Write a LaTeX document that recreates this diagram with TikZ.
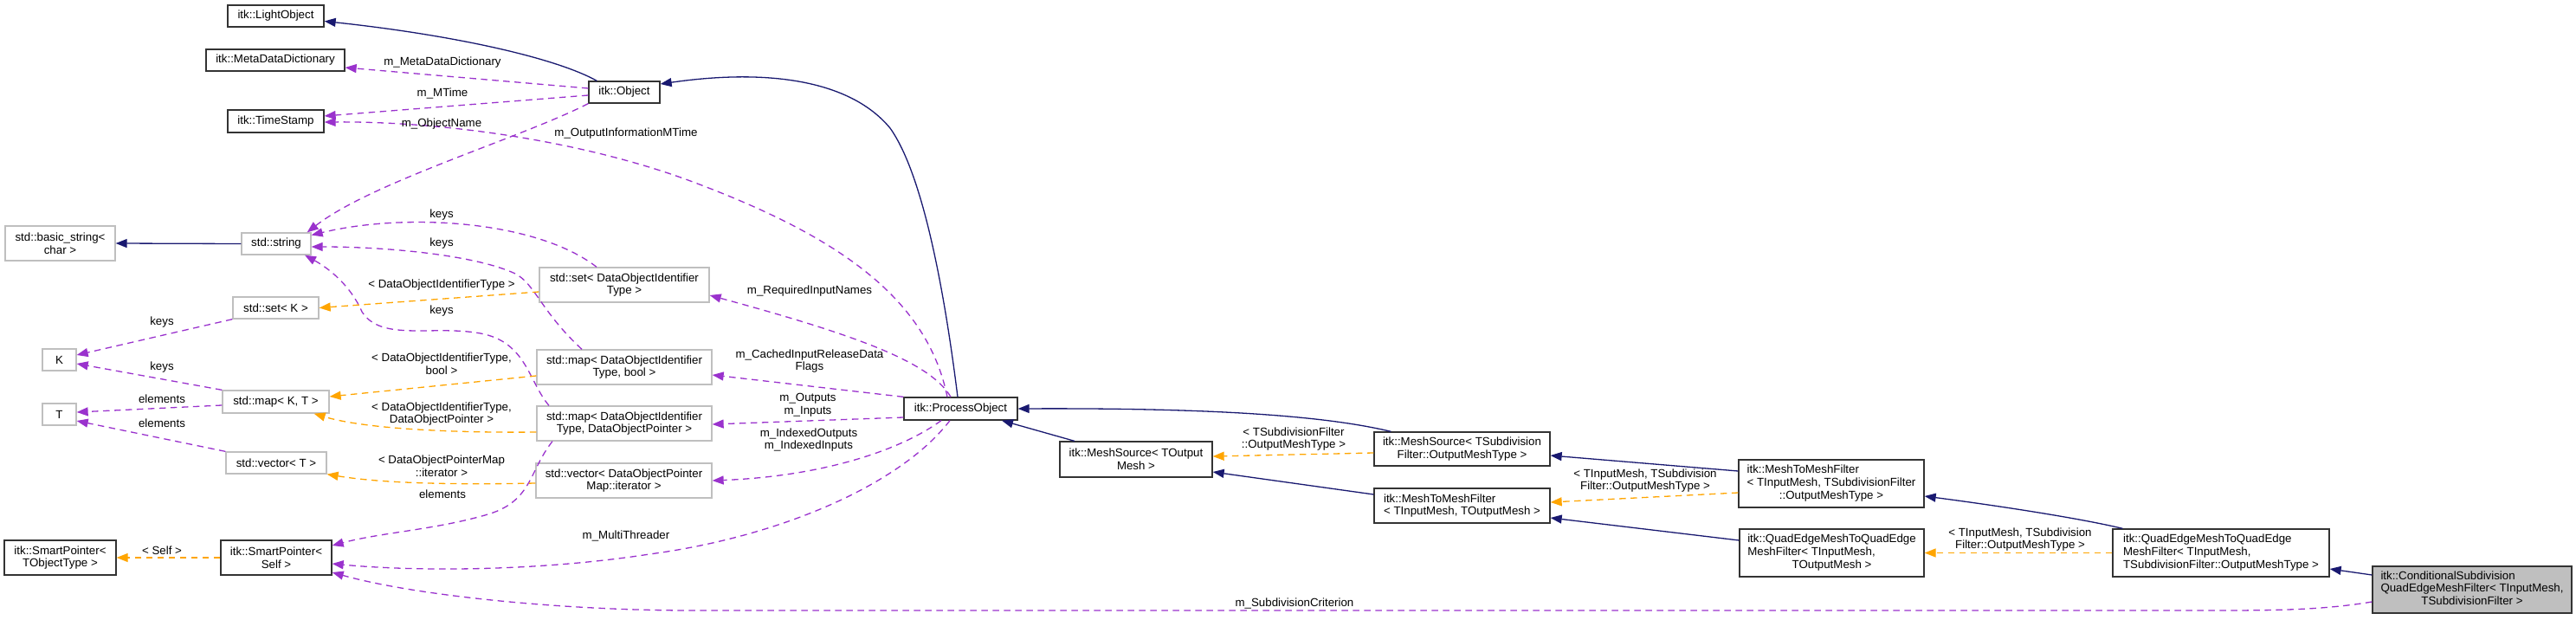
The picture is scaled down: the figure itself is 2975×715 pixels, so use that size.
\documentclass[tikz,border=0pt]{standalone}
\usepackage{fontspec}
\setmainfont{Liberation Sans}
\usepackage{xcolor}
\usetikzlibrary{arrows.meta, calc}
\definecolor{dxnavy}{HTML}{191970}
\definecolor{dxpurple}{HTML}{9A32CD}
\definecolor{dxorange}{HTML}{FFA500}
\newcommand{\dxfont}{\fontsize{13.3pt}{14.7pt}\selectfont}
\newcommand{\mixlines}[3]{\begin{tabular}{@{}l@{}}#1\\#2\\\multicolumn{1}{@{}c@{}}{#3}\end{tabular}}

\begin{document}
\begin{tikzpicture}[x=1pt, y=-1pt,
    cls/.style={rectangle, draw=black!80, line width=1.3pt, fill=white,
        inner sep=0pt, align=center, font=\dxfont},
    extcls/.style={cls, draw=gray!50},
    curcls/.style={cls, fill=gray!50},
    lbl/.style={inner sep=0pt, align=center, font=\dxfont},
    inh/.style={draw=dxnavy, line width=1.3pt, -{Triangle[length=13pt, width=10pt]}},
    usage/.style={draw=dxpurple, line width=1.3pt, dash pattern=on 7.5pt off 5.5pt,
        -{Triangle[length=13pt, width=10pt]}},
    tmpl/.style={usage, draw=dxorange},
]
\useasboundingbox (0,0) rectangle (2975,715);

% classes
\node[cls, minimum width=111pt, minimum height=25pt] (lightobj) at (318.5,18.5) {itk::LightObject};
\node[cls, minimum width=160pt, minimum height=25pt] (metadict) at (318,69.5) {itk::MetaDataDictionary};
\node[cls, minimum width=111pt, minimum height=26pt] (timestamp) at (318.5,140) {itk::TimeStamp};
\node[cls, minimum width=82pt, minimum height=25pt] (object) at (721,106.5) {itk::Object};
\node[extcls, minimum width=127pt, minimum height=40pt] (basicstr) at (69.5,281) {std::basic\_string<\\char >};
\node[extcls, minimum width=80pt, minimum height=25pt] (stdstring) at (319,281.5) {std::string};
\node[extcls, minimum width=99pt, minimum height=25pt] (setK) at (318.5,355.5) {std::set< K >};
\node[extcls, minimum width=39pt, minimum height=25pt] (nodeK) at (68.5,415.5) {K};
\node[extcls, minimum width=39pt, minimum height=25pt] (nodeT) at (68.5,478.5) {T};
\node[extcls, minimum width=123pt, minimum height=26pt] (mapKT) at (318.5,464) {std::map< K, T >};
\node[extcls, minimum width=116pt, minimum height=25pt] (vectorT) at (319,534.5) {std::vector< T >};
\node[extcls, minimum width=196pt, minimum height=40pt] (setDOI) at (721,329) {std::set< DataObjectIdentifier\\Type >};
\node[extcls, minimum width=202pt, minimum height=40pt] (mapDOIbool) at (721,424) {std::map< DataObjectIdentifier\\Type, bool >};
\node[extcls, minimum width=202pt, minimum height=40pt] (mapDOIptr) at (721,489) {std::map< DataObjectIdentifier\\Type, DataObjectPointer >};
\node[extcls, minimum width=203pt, minimum height=40pt] (vectorDOP) at (720.5,555) {std::vector< DataObjectPointer\\Map::iterator >};
\node[cls, minimum width=129pt, minimum height=40pt] (spTObj) at (69.5,644) {itk::SmartPointer<\\TObjectType >};
\node[cls, minimum width=128pt, minimum height=40pt] (spSelf) at (319,644) {itk::SmartPointer<\\Self >};
\node[cls, minimum width=131pt, minimum height=26pt] (procobj) at (1109.5,472) {itk::ProcessObject};
\node[cls, minimum width=176pt, minimum height=41pt] (meshsrcOut) at (1312,530.5) {itk::MeshSource< TOutput\\Mesh >};
\node[cls, minimum width=203pt, minimum height=39pt] (meshsrcSub) at (1688.5,518.5) {itk::MeshSource< TSubdivision\\Filter::OutputMeshType >};
\node[cls, align=left, minimum width=203pt, minimum height=40pt] (m2mOut) at (1688.5,584) {itk::MeshToMeshFilter\\< TInputMesh, TOutputMesh >};
\node[cls, minimum width=214pt, minimum height=55pt] (m2mSub) at (2115,558.5)
    {\mixlines{itk::MeshToMeshFilter}{< TInputMesh, TSubdivisionFilter}{::OutputMeshType >}};
\node[cls, minimum width=213pt, minimum height=55pt] (qeOut) at (2115.5,638.5)
    {\mixlines{itk::QuadEdgeMeshToQuadEdge}{MeshFilter< TInputMesh,}{TOutputMesh >}};
\node[cls, minimum width=250pt, minimum height=55pt] (qeSub) at (2565,638.5)
    {\mixlines{itk::QuadEdgeMeshToQuadEdge}{MeshFilter< TInputMesh,}{ TSubdivisionFilter::OutputMeshType >}};
\node[curcls, minimum width=230pt, minimum height=54pt] (condsub) at (2855,681)
    {\mixlines{itk::ConditionalSubdivision}{QuadEdgeMeshFilter< TInputMesh,}{TSubdivisionFilter >}};

% inheritance
\draw[inh] ($(object.north west)+(10,0)$) .. controls (640,66) and (520,40) .. ($(lightobj.east)+(0,6)$);
\draw[inh] ($(procobj.north)+(-3.5,0)$) .. controls (1090,330) and (1065,200) .. (1028,148)
    .. controls (980,90) and (880,80) .. ($(object.east)+(0,-9.5)$);
\draw[inh] ($(meshsrcOut.north)+(-71,0)$) -- ($(procobj.south)+(47.5,0)$);
\draw[inh] ($(meshsrcSub.north west)+(20,0)$) .. controls (1530,480) and (1400,471) .. (procobj.east);
\draw[inh] ($(m2mOut.west)+(0,-13)$) -- ($(meshsrcOut.east)+(0,14.5)$);
\draw[inh] ($(m2mSub.west)+(0,-14.5)$) -- ($(meshsrcSub.east)+(0,7.5)$);
\draw[inh] ($(qeOut.west)+(0,-14.5)$) -- ($(m2mOut.east)+(0,14)$);
\draw[inh] ($(qeSub.north west)+(12,0)$) .. controls (2400,598) and (2300,583) .. ($(m2mSub.east)+(0,14.5)$);
\draw[inh] ($(condsub.west)+(0,-17)$) -- ($(qeSub.east)+(0,18.5)$);
\draw[inh] (stdstring.west) -- (basicstr.east);

% members
\draw[usage] ($(object.west)+(0,-4.5)$) -- ($(metadict.east)+(0,8.5)$);
\draw[usage] ($(object.west)+(0,3.5)$) -- ($(timestamp.east)+(0,-6)$);
\draw[usage] ($(procobj.north)+(-15.5,0)$) .. controls (1070,340) and (960,270) .. (800,210)
    .. controls (680,165) and (520,140) .. ($(timestamp.east)+(0,1)$);
\draw[usage] (object.south west) .. controls (600,160) and (430,210) .. ($(stdstring.north east)+(-5,0)$);
\draw[usage] ($(setDOI.north)+(-32,0)$) .. controls (620,255) and (470,245) .. ($(stdstring.east)+(0,-10)$);
\draw[usage] ($(mapDOIbool.north)+(-49,0)$) .. controls (625,360) and (618,328) .. (595,316)
    .. controls (550,295) and (450,285) .. ($(stdstring.east)+(0,3.5)$);
\draw[usage] ($(mapDOIptr.north)+(-87,0)$) .. controls (610,440) and (608,395) .. (555,385)
    .. controls (500,375) and (440,395) .. (418,360)
    .. controls (405,330) and (380,310) .. ($(stdstring.south)+(33,0)$);
\draw[usage] ($(mapDOIptr.south)+(-83,0)$) .. controls (610,545) and (615,580) .. (560,595)
    .. controls (500,612) and (440,615) .. ($(spSelf.east)+(0,-14)$);
\draw[usage] ($(procobj.south)+(-12.5,0)$) .. controls (1040,560) and (900,620) .. (750,640)
    .. controls (620,660) and (480,660) .. ($(spSelf.east)+(0,7)$);
\draw[usage] ($(condsub.west)+(0,14)$) .. controls (2680,705) and (2620,705) .. (2550,705) -- (800,705)
    .. controls (650,705) and (480,688) .. ($(spSelf.east)+(0,17)$);
\draw[usage] ($(procobj.north)+(-11.5,0)$) .. controls (1075,420) and (1000,390) .. ($(setDOI.east)+(0,12)$);
\draw[usage] (procobj.north west) -- ($(mapDOIbool.east)+(0,9)$);
\draw[usage] ($(procobj.west)+(0,10)$) -- ($(mapDOIptr.east)+(0,1)$);
\draw[usage] ($(procobj.south)+(-22.5,0)$) .. controls (1040,520) and (950,550) .. (vectorDOP.east);
\draw[usage] (setK.south west) -- ($(nodeK.east)+(0,-5.5)$);
\draw[usage] (mapKT.north west) -- ($(nodeK.east)+(0,4.5)$);
\draw[usage] ($(mapKT.west)+(0,4)$) -- ($(nodeT.east)+(0,-2.5)$);
\draw[usage] (vectorT.north west) -- ($(nodeT.east)+(0,7.5)$);

% template instances
\draw[tmpl] ($(setDOI.west)+(0,8)$) -- (setK.east);
\draw[tmpl] ($(mapDOIbool.west)+(0,10)$) -- ($(mapKT.east)+(0,-6)$);
\draw[tmpl] ($(mapDOIptr.west)+(0,10)$) .. controls (520,500) and (420,495) .. ($(mapKT.south east)+(-18,0)$);
\draw[tmpl] ($(vectorDOP.west)+(0,3)$) .. controls (520,560) and (440,558) .. (vectorT.south east);
\draw[tmpl] (spSelf.west) -- (spTObj.east);
\draw[tmpl] ($(meshsrcSub.west)+(0,4.5)$) -- ($(meshsrcOut.east)+(0,-3.5)$);
\draw[tmpl] ($(m2mSub.west)+(0,10.5)$) -- ($(m2mOut.east)+(0,-4)$);
\draw[tmpl] (qeSub.west) -- (qeOut.east);

% labels
\node[lbl] (lmeta) at (511,72) {m\_MetaDataDictionary};
\node[lbl] (lmtime) at (511,108) {m\_MTime};
\node[lbl] (lobjname) at (510,143) {m\_ObjectName};
\node[lbl] (loutinfo) at (723,154) {m\_OutputInformationMTime};
\node[lbl] (lkeysA) at (510,248) {keys};
\node[lbl] (lkeysB) at (510,281) {keys};
\node[lbl] (ldoitype) at (510,329) {< DataObjectIdentifierType >};
\node[lbl] (lkeysC) at (510,359) {keys};
\node[lbl] (lkeysK1) at (187,372) {keys};
\node[lbl] (lkeysK2) at (187,424) {keys};
\node[lbl] (lelemT1) at (187,461) {elements};
\node[lbl] (lelemT2) at (187,489) {elements};
\node[lbl] (ldoibool) at (510,420) {< DataObjectIdentifierType,\\bool >};
\node[lbl] (ldoiptr) at (510,478) {< DataObjectIdentifierType,\\DataObjectPointer >};
\node[lbl] (ldopiter) at (510,538) {< DataObjectPointerMap\\::iterator >};
\node[lbl] (lelemSP) at (511,571) {elements};
\node[lbl] (lself) at (187,636) {< Self >};
\node[lbl] (lmulti) at (723,619) {m\_MultiThreader};
\node[lbl] (lreqin) at (935,336) {m\_RequiredInputNames};
\node[lbl] (lcached) at (935,417) {m\_CachedInputReleaseData\\Flags};
\node[lbl] (lio) at (933,468) {m\_Outputs\\m\_Inputs};
\node[lbl] (lidx) at (934,508) {m\_IndexedOutputs\\m\_IndexedInputs};
\node[lbl] (ltsub) at (1494,507) {< TSubdivisionFilter\\::OutputMeshType >};
\node[lbl] (lcrit) at (1495,697) {m\_SubdivisionCriterion};
\node[lbl] (ltinA) at (1900,555) {< TInputMesh, TSubdivision\\Filter::OutputMeshType >};
\node[lbl] (ltinB) at (2333,623) {< TInputMesh, TSubdivision\\Filter::OutputMeshType >};
\end{tikzpicture}
\end{document}
